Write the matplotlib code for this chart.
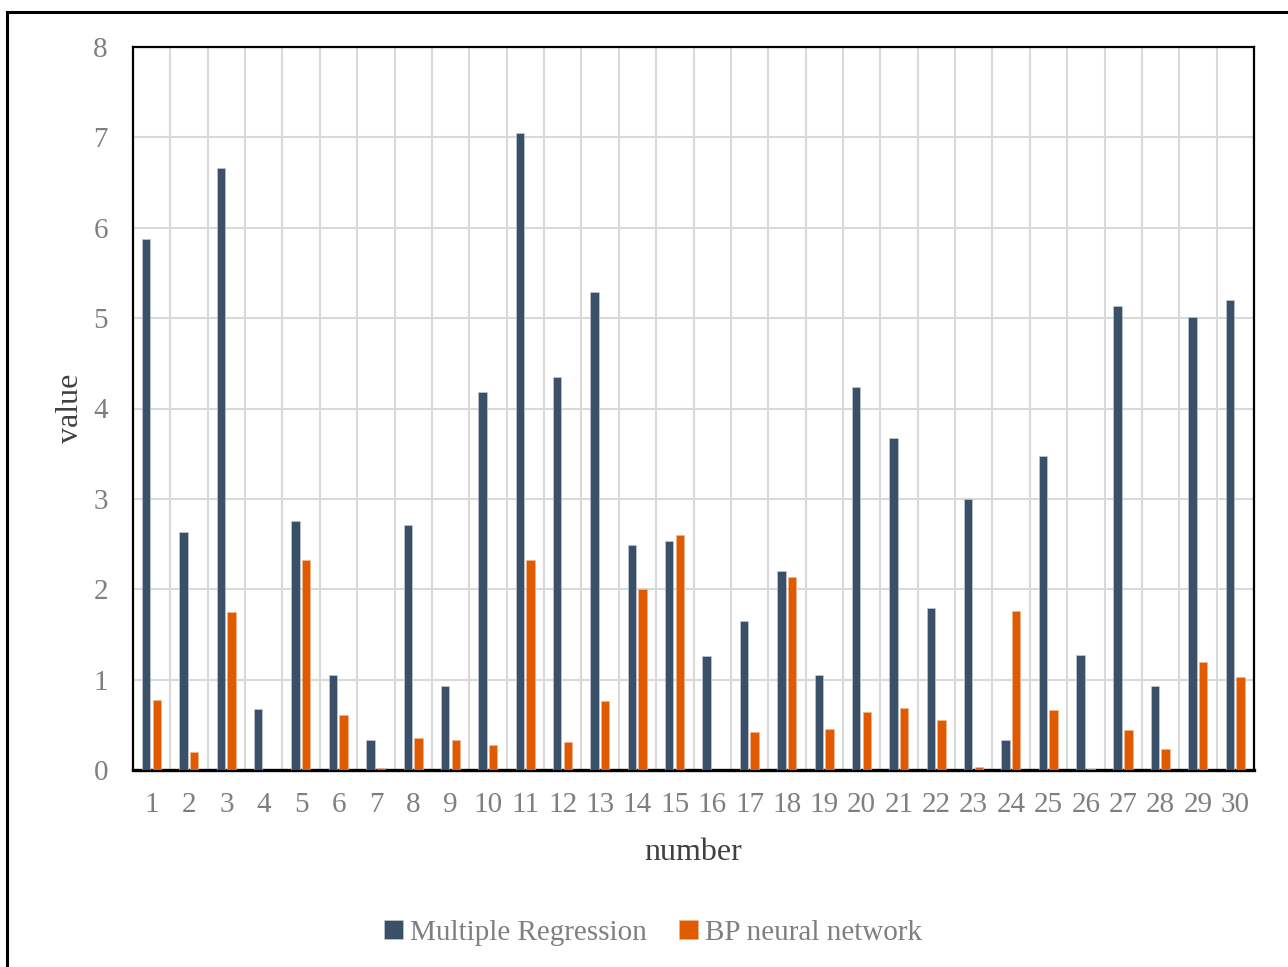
import matplotlib.pyplot as plt
from matplotlib.patches import Rectangle
import numpy as np

# values
numbers = list(range(1, 31))
multiple_regression = [5.88, 2.63, 6.66, 0.675, 2.75, 1.05, 0.33, 2.71, 0.93, 4.18,
                       7.05, 4.35, 5.29, 2.49, 2.53, 1.26, 1.645, 2.205, 1.055, 4.24,
                       3.67, 1.796, 3.00, 0.33, 3.47, 1.27, 5.13, 0.93, 5.01, 5.20]
bp_network = [0.775, 0.196, 1.745, 0.0, 2.32, 0.605, 0.02, 0.354, 0.33, 0.277,
              2.32, 0.31, 0.76, 2.0, 2.6, 0.0, 0.42, 2.135, 0.454, 0.645,
              0.686, 0.553, 0.033, 1.76, 0.664, 0.01, 0.44, 0.23, 1.195, 1.026]
y_ticks = list(range(0, 9))

blue = '#3a5068'
orange = '#e05a00'
grey_text = '#7f7f7f'

plt.rcParams['font.family'] = ['Liberation Serif', 'DejaVu Serif']

fig = plt.figure(figsize=(12.88, 9.67), dpi=100)
ax = fig.add_axes([133 / 1288, 1 - 770 / 967, (1254 - 133) / 1288, (770 - 47) / 967])

x = np.array(numbers)
width = 0.225
ax.bar(x - 0.148, multiple_regression, width, color=blue, edgecolor='#c8d0da',
       linewidth=0.4, label='Multiple Regression', zorder=3)
ax.bar(x + 0.137, bp_network, width, color=orange, edgecolor='#f5b88f',
       linewidth=0.4, label='BP neural network', zorder=3)

ax.set_xlim(0.5, 30.5)
ax.set_ylim(0, 8)
ax.set_xticks(numbers)
ax.set_xticklabels([str(n) for n in numbers])
ax.set_xticks(np.arange(1.5, 30.5, 1), minor=True)
ax.set_yticks(y_ticks)

# grid: horizontal at integers, vertical between categories
ax.grid(axis='y', which='major', color='#d9d9d9', linewidth=1.5, zorder=0)
ax.grid(axis='x', which='minor', color='#d9d9d9', linewidth=1.5, zorder=0)
ax.tick_params(which='both', length=0)
ax.tick_params(axis='x', labelsize=21, labelcolor=grey_text, pad=16)
ax.tick_params(axis='y', labelsize=21, labelcolor=grey_text, pad=18)

for s in ax.spines.values():
    s.set_linewidth(1.6)
    s.set_color('black')
ax.spines['bottom'].set_linewidth(2.4)

ax.set_xlabel('number', fontsize=23, color='#404040', labelpad=14)
ax.set_ylabel('value', fontsize=23, color='#404040', labelpad=6)

fig.legend(loc='center', bbox_to_anchor=(653 / 1288, 1 - 933 / 967), ncol=2,
           frameon=False, fontsize=21, labelcolor=grey_text, handlelength=0.65,
           handleheight=0.65, handletextpad=0.25, columnspacing=1.1)

# outer border of the figure (clipped on right and bottom in the reference)
fig.patches.append(Rectangle((7 / 1288, -0.05), 1.1, 1 - 12 / 967 + 0.05,
                             transform=fig.transFigure, fill=False,
                             edgecolor='black', linewidth=2.2))

fig.savefig('out.png', dpi=100)
